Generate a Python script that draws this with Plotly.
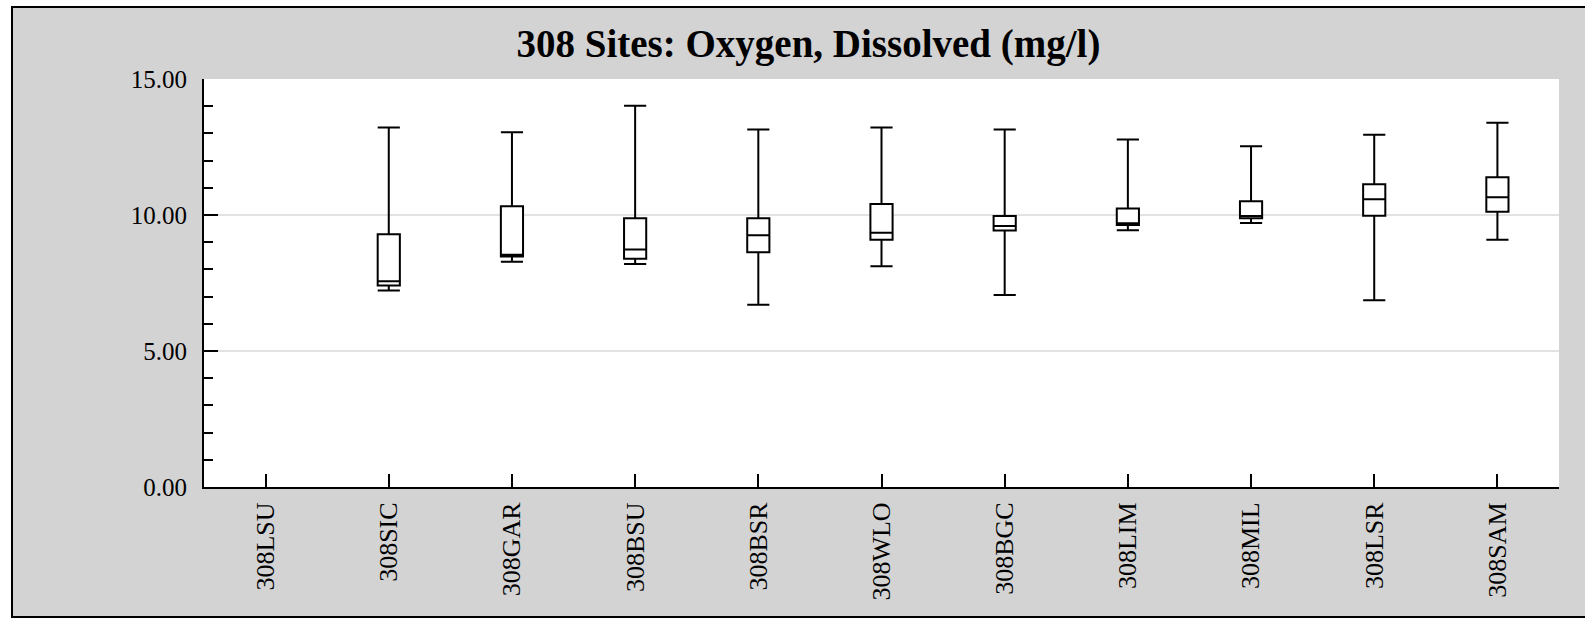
import plotly.graph_objects as go

# ---- data ----
categories = ["308LSU", "308SIC", "308GAR", "308BSU", "308BSR", "308WLO",
              "308BGC", "308LIM", "308MIL", "308LSR", "308SAM"]
box_sites = ["308SIC", "308GAR", "308BSU", "308BSR", "308WLO",
             "308BGC", "308LIM", "308MIL", "308LSR", "308SAM"]
lower = [7.22, 8.28, 8.20, 6.70, 8.12, 7.06, 9.44, 9.71, 6.87, 9.09]
q1 = [7.41, 8.47, 8.39, 8.63, 9.09, 9.43, 9.63, 9.88, 9.97, 10.12]
median = [7.56, 8.54, 8.73, 9.26, 9.35, 9.60, 9.70, 9.96, 10.58, 10.65]
q3 = [9.29, 10.32, 9.88, 9.88, 10.40, 9.96, 10.24, 10.51, 11.13, 11.39]
upper = [13.22, 13.04, 14.02, 13.14, 13.22, 13.14, 12.78, 12.53, 12.95, 13.39]
y_ticks = [0, 5, 10, 15]
y_tick_labels = ["0.00", "5.00", "10.00", "15.00"]
title_text = "308 Sites: Oxygen, Dissolved (mg/l)"

# ---- layout geometry ----
W, H = 1585, 621
L, R, T, B = 204, 26, 79, 134
PW, PH = W - L - R, H - T - B


def px_x(px):
    return (px - L) / PW


def px_y(py):
    return (H - B - py) / PH


FONT = "Liberation Serif"

fig = go.Figure()
fig.add_trace(go.Box(
    x=box_sites,
    q1=q1, median=median, q3=q3,
    lowerfence=lower, upperfence=upper,
    fillcolor="white",
    line=dict(color="black", width=2),
    whiskerwidth=1,
    boxpoints=False,
    hoverinfo="skip",
    showlegend=False,
))

fig.update_layout(
    width=W, height=H,
    margin=dict(l=L, r=R, t=T, b=B, autoexpand=False),
    paper_bgcolor="white",
    plot_bgcolor="rgba(0,0,0,0)",
    boxgap=0.82, boxgroupgap=0,
    font=dict(family=FONT, color="black"),
    title=dict(
        text="<b>" + title_text + "</b>",
        font=dict(family=FONT, size=39, color="black"),
        x=px_x(808.5), xref="paper", xanchor="center",
        y=1 - 43 / H, yref="container", yanchor="middle",
    ),
    shapes=[
        # grey outer frame
        dict(type="rect", xref="paper", yref="paper", layer="below",
             x0=px_x(12), x1=px_x(1620), y0=px_y(7), y1=px_y(617),
             fillcolor="#d3d3d3", line=dict(color="black", width=2)),
        # white plotting area
        dict(type="rect", xref="paper", yref="paper", layer="below",
             x0=0, x1=1, y0=0, y1=1,
             fillcolor="white", line=dict(width=0)),
    ],
)

fig.update_xaxes(
    type="category",
    categoryorder="array", categoryarray=categories,
    tickmode="array", tickvals=categories, ticktext=categories,
    range=[-0.5, len(categories) - 0.5],
    showline=True, linecolor="black", linewidth=2,
    ticks="inside", ticklen=13, tickwidth=2, tickcolor="black",
    tickangle=-90, ticklabelstandoff=3,
    tickfont=dict(family=FONT, size=26, color="black"),
    showgrid=False, zeroline=False, fixedrange=True,
)

fig.update_yaxes(
    range=[0, 15],
    tickmode="array", tickvals=y_ticks, ticktext=y_tick_labels,
    showline=True, linecolor="black", linewidth=2,
    ticks="inside", ticklen=14, tickwidth=2, tickcolor="black",
    minor=dict(dtick=1, ticks="inside", ticklen=9, tickwidth=2,
               tickcolor="black", showgrid=False),
    ticklabelstandoff=10,
    tickfont=dict(family=FONT, size=25, color="black"),
    showgrid=True, gridcolor="#e2e2e2", gridwidth=2,
    zeroline=False, fixedrange=True,
)

fig.write_html(
    "out.html",
    config={"displayModeBar": False},
    post_script="document.body.style.margin='0';"
                "document.body.style.overflow='hidden';",
)
